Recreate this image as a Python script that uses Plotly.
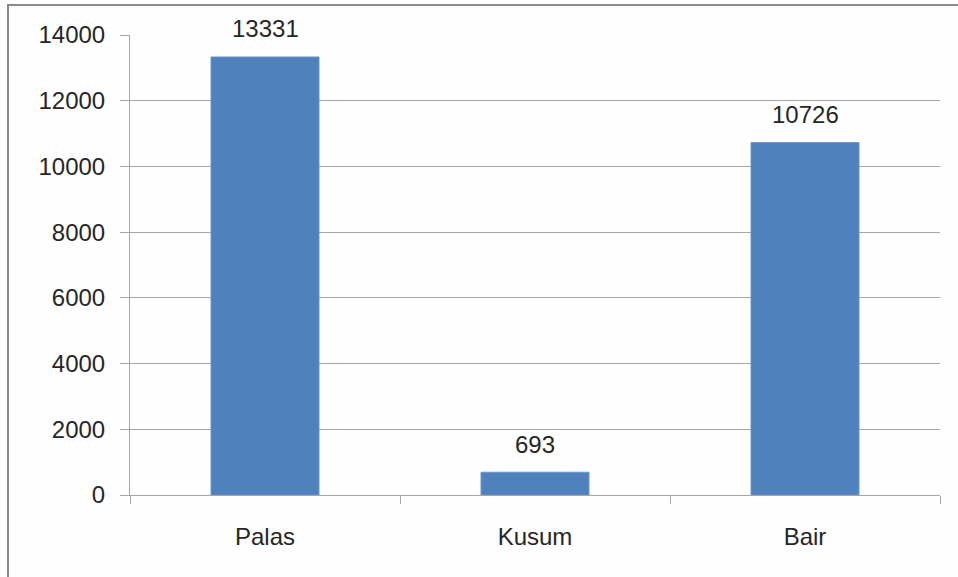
import plotly.graph_objects as go

categories = ["Palas", "Kusum", "Bair"]
values = [13331, 693, 10726]
y_ticks = [0, 2000, 4000, 6000, 8000, 10000, 12000, 14000]

FONT = "Liberation Sans, Arial, sans-serif"
GRID = "#a6a6a6"

fig = go.Figure()
fig.add_trace(go.Bar(
    x=categories, y=values,
    marker=dict(color="#4f81bd", line=dict(color="#6d97cc", width=1)),
    width=0.4,
))

for c, v in zip(categories, values):
    fig.add_annotation(x=c, y=v, text=str(v), showarrow=False,
                       yanchor="middle", yshift=28,
                       font=dict(family=FONT, size=24, color="#262626"))

fig.update_layout(
    width=958, height=577,
    margin=dict(l=130, r=18, t=35, b=82),
    paper_bgcolor="#fefefe", plot_bgcolor="#fefefe",
    showlegend=False,
    font=dict(family=FONT, size=24, color="#262626"),
    shapes=[dict(type="rect", xref="paper", yref="paper",
                 x0=(8 - 130) / 810, x1=1.1, y0=-0.3, y1=(495 - 5) / 460,
                 line=dict(color="#8a8a8a", width=2), layer="below")],
)
fig.update_xaxes(
    showline=True, linecolor=GRID, linewidth=1,
    ticks="outside", tickson="boundaries", ticklen=8, tickcolor=GRID,
    showgrid=False, ticklabelstandoff=20,
)
fig.update_yaxes(
    range=[0, 14000], tickvals=y_ticks, ticktext=[str(t) for t in y_ticks],
    showline=True, linecolor=GRID, linewidth=1,
    ticks="outside", ticklen=9, tickcolor=GRID,
    showgrid=True, gridcolor=GRID, gridwidth=1, zeroline=False,
    ticklabelstandoff=10,
)
fig.write_html("out.html", config={"displayModeBar": False},
               post_script="document.body.style.margin='0';")
